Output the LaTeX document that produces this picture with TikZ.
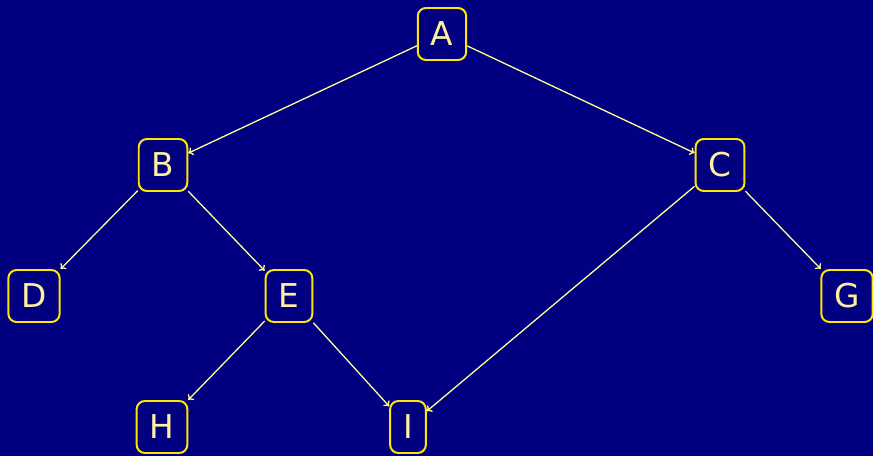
\documentclass[tikz,border=0pt]{standalone}
\usepackage{fontspec}
\setmainfont{DejaVu Sans}
\usetikzlibrary{arrows.meta}
\definecolor{treebg}{RGB}{0,0,128}
\definecolor{boxyellow}{RGB}{255,230,0}
\definecolor{labelyellow}{RGB}{255,240,160}
\definecolor{edgeyellow}{RGB}{255,255,150}

\begin{document}
\begin{tikzpicture}[
  x=0.03cm, y=-0.03cm,
  % tree node style
  treenode/.style={
    draw=boxyellow, line width=1.7pt, rounded corners=7pt,
    minimum height=52*0.03cm, inner xsep=13*0.03cm,
    text=labelyellow, font=\fontsize{28}{30}\selectfont
  },
  % edge style
  link/.style={->, >={To[length=4pt,width=7pt]}, edgeyellow, line width=1.1pt}
]

% background
\fill[treebg] (0,0) rectangle (873,456);
\useasboundingbox (0,0) rectangle (873,456);

% ── nodes ──
\node[treenode] (A) at (442,34)  {A};
\node[treenode] (B) at (163,165) {B};
\node[treenode] (C) at (720,165) {C};
\node[treenode] (D) at (34,296)  {D};
\node[treenode] (E) at (289,296) {E};
\node[treenode] (G) at (847,296) {G};
\node[treenode] (H) at (162,427) {H};
\node[treenode] (I) at (408,427) {I};

% ── edges ──
\draw[link] (A) -- (B);
\draw[link] (A) -- (C);
\draw[link] (B) -- (D);
\draw[link] (B) -- (E);
\draw[link] (C) -- (I);
\draw[link] (C) -- (G);
\draw[link] (E) -- (H);
\draw[link] (E) -- (I);

\end{tikzpicture}
\end{document}
